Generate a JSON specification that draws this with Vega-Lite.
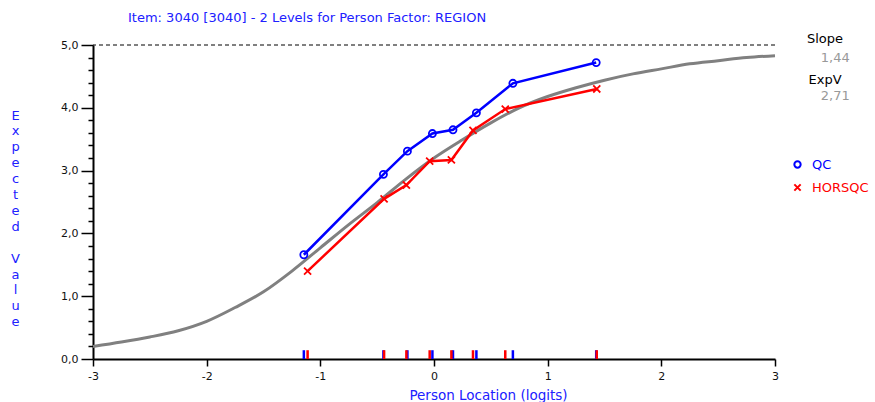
{
  "$schema": "https://vega.github.io/schema/vega-lite/v6.json",
  "width": 682,
  "height": 314,
  "autosize": {"type": "none"},
  "padding": {"left": 93, "top": 45, "right": 100, "bottom": 43},
  "background": "white",
  "config": {"view": {"stroke": null}, "font": "DejaVu Sans"},
  "title": {
    "text": "Item: 3040 [3040] - 2 Levels for Person Factor: REGION",
    "anchor": "start",
    "frame": "group",
    "dx": 35,
    "offset": 8,
    "color": "#2020ff",
    "fontSize": 13,
    "fontWeight": "normal",
    "font": "DejaVu Sans"
  },
  "datasets": {
    "curve": [
      {"location": -3.0, "expected": 0.20},
      {"location": -2.75, "expected": 0.27},
      {"location": -2.5, "expected": 0.35},
      {"location": -2.25, "expected": 0.45},
      {"location": -2.0, "expected": 0.60},
      {"location": -1.75, "expected": 0.82},
      {"location": -1.5, "expected": 1.07},
      {"location": -1.25, "expected": 1.40},
      {"location": -1.0, "expected": 1.77},
      {"location": -0.75, "expected": 2.14},
      {"location": -0.5, "expected": 2.49},
      {"location": -0.25, "expected": 2.86},
      {"location": 0.0, "expected": 3.20},
      {"location": 0.25, "expected": 3.49},
      {"location": 0.5, "expected": 3.76},
      {"location": 0.75, "expected": 4.00},
      {"location": 1.0, "expected": 4.18},
      {"location": 1.25, "expected": 4.32},
      {"location": 1.5, "expected": 4.44},
      {"location": 1.75, "expected": 4.54},
      {"location": 2.0, "expected": 4.62},
      {"location": 2.25, "expected": 4.70},
      {"location": 2.5, "expected": 4.75},
      {"location": 2.75, "expected": 4.80},
      {"location": 3.0, "expected": 4.83}
    ],
    "points": [
      {"group": "QC", "location": -1.145, "observed": 1.66},
      {"group": "QC", "location": -0.445, "observed": 2.94},
      {"group": "QC", "location": -0.234, "observed": 3.31},
      {"group": "QC", "location": -0.014, "observed": 3.59},
      {"group": "QC", "location": 0.167, "observed": 3.65},
      {"group": "QC", "location": 0.373, "observed": 3.92},
      {"group": "QC", "location": 0.694, "observed": 4.39},
      {"group": "QC", "location": 1.427, "observed": 4.72},
      {"group": "HORSQC", "location": -1.112, "observed": 1.40},
      {"group": "HORSQC", "location": -0.439, "observed": 2.55},
      {"group": "HORSQC", "location": -0.243, "observed": 2.77},
      {"group": "HORSQC", "location": -0.038, "observed": 3.15},
      {"group": "HORSQC", "location": 0.153, "observed": 3.17},
      {"group": "HORSQC", "location": 0.343, "observed": 3.64},
      {"group": "HORSQC", "location": 0.627, "observed": 3.98},
      {"group": "HORSQC", "location": 1.432, "observed": 4.30}
    ]
  },
  "layer": [
    {
      "data": {"name": "curve"},
      "mark": {"type": "line", "color": "#808080", "strokeWidth": 3, "interpolate": "monotone"},
      "encoding": {
        "x": {
          "field": "location",
          "type": "quantitative",
          "scale": {"domain": [-3, 3], "nice": false, "zero": false},
          "axis": {
            "values": [-3, -2, -1, 0, 1, 2, 3],
            "tickCount": 7,
            "labelExpr": "datum.value + ''",
            "grid": false,
            "domainColor": "black",
            "domainWidth": 2,
            "tickColor": "black",
            "tickWidth": 1.5,
            "tickSize": 7,
            "labelPadding": 4,
            "labelColor": "#111",
            "labelFontSize": 11,
            "labelFlush": false,
            "labelOverlap": false,
            "title": "Person Location (logits)",
            "titleColor": "#2020ff",
            "titleFontSize": 13.5,
            "titleFontWeight": "normal",
            "titleX": 395,
            "titleY": 36,
            "titleAlign": "center",
            "titleBaseline": "middle"
          }
        },
        "y": {
          "field": "expected",
          "type": "quantitative",
          "scale": {"domain": [0, 5], "nice": false},
          "axis": {
            "values": [0, 0.2, 0.4, 0.6, 0.8, 1, 1.2, 1.4, 1.6, 1.8, 2, 2.2, 2.4, 2.6, 2.8, 3, 3.2, 3.4, 3.6, 3.8, 4, 4.2, 4.4, 4.6, 4.8, 5],
            "tickCount": 30,
            "labelExpr": "abs(datum.value - round(datum.value)) < 0.01 ? replace(format(datum.value, '.1f'), '.', ',') : ''",
            "tickSize": {"condition": {"test": "abs(datum.value - round(datum.value)) < 0.01", "value": 12}, "value": 5},
            "grid": false,
            "domainColor": "black",
            "domainWidth": 2,
            "tickColor": "black",
            "tickWidth": 1.5,
            "labelPadding": 3,
            "labelColor": "#111",
            "labelFontSize": 11,
            "labelFlush": false,
            "labelOverlap": false,
            "title": ["E", "x", "p", "e", "c", "t", "e", "d", "\u2800", "V", "a", "l", "u", "e"],
            "titleAngle": 0,
            "titleAlign": "center",
            "titleBaseline": "top",
            "titleX": -78,
            "titleY": 64,
            "titleLineHeight": 15.9,
            "titleColor": "#2020ff",
            "titleFontSize": 13,
            "titleFontWeight": "normal"
          }
        }
      }
    },
    {
      "data": {"values": [{}]},
      "mark": {"type": "rule", "strokeDash": [4, 3], "color": "black", "strokeWidth": 1},
      "encoding": {"y": {"datum": 5}}
    },
    {
      "data": {"name": "points"},
      "mark": {"type": "rule", "strokeWidth": 2.5},
      "encoding": {
        "x": {"field": "location", "type": "quantitative"},
        "y": {"datum": 0},
        "y2": {"datum": 0.14},
        "color": {"field": "group", "type": "nominal", "scale": {"domain": ["QC", "HORSQC"], "range": ["#0000ff", "#ff0000"]}}
      }
    },
    {
      "data": {"name": "points"},
      "mark": {"type": "line", "strokeWidth": 2.5},
      "encoding": {
        "x": {"field": "location", "type": "quantitative"},
        "y": {"field": "observed", "type": "quantitative"},
        "color": {"field": "group", "type": "nominal", "scale": {"domain": ["QC", "HORSQC"], "range": ["#0000ff", "#ff0000"]}}
      }
    },
    {
      "data": {"name": "points"},
      "mark": {"type": "point", "filled": false, "size": 50, "strokeWidth": 1.8, "opacity": 1},
      "encoding": {
        "x": {"field": "location", "type": "quantitative"},
        "y": {"field": "observed", "type": "quantitative"},
        "color": {
          "field": "group",
          "type": "nominal",
          "scale": {"domain": ["QC", "HORSQC"], "range": ["#0000ff", "#ff0000"]},
          "legend": {
            "title": null,
            "orient": "none",
            "legendX": 698,
            "legendY": 113,
            "padding": 0,
            "rowPadding": 8,
            "labelOffset": 8,
            "labelFontSize": 13,
            "labelFont": "DejaVu Sans",
            "labelColor": {"expr": "datum.value == 'QC' ? '#0000ff' : '#ff0000'"},
            "symbolStrokeWidth": 2,
            "symbolSize": 40
          }
        },
        "shape": {
          "field": "group",
          "type": "nominal",
          "scale": {"domain": ["QC", "HORSQC"], "range": ["circle", "M-1,-1L1,1M1,-1L-1,1"]}
        }
      }
    },
    {
      "data": {"values": [{}]},
      "mark": {"type": "text", "align": "center", "baseline": "middle", "fontSize": 13, "color": "#000"},
      "encoding": {"x": {"datum": 3.44}, "y": {"datum": 5.09}, "text": {"value": "Slope"}}
    },
    {
      "data": {"values": [{}]},
      "mark": {"type": "text", "align": "center", "baseline": "middle", "fontSize": 13, "color": "#999"},
      "encoding": {"x": {"datum": 3.53}, "y": {"datum": 4.8}, "text": {"value": "1,44"}}
    },
    {
      "data": {"values": [{}]},
      "mark": {"type": "text", "align": "center", "baseline": "middle", "fontSize": 13, "color": "#000"},
      "encoding": {"x": {"datum": 3.44}, "y": {"datum": 4.45}, "text": {"value": "ExpV"}}
    },
    {
      "data": {"values": [{}]},
      "mark": {"type": "text", "align": "center", "baseline": "middle", "fontSize": 13, "color": "#999"},
      "encoding": {"x": {"datum": 3.53}, "y": {"datum": 4.18}, "text": {"value": "2,71"}}
    }
  ]
}
